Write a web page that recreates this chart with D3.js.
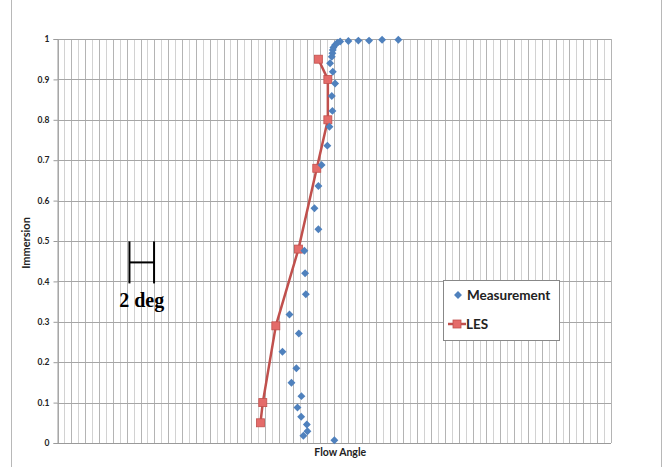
<!DOCTYPE html>
<html>
<head>
<meta charset="utf-8">
<script src="https://cdn.jsdelivr.net/npm/d3@7"></script>
<style>
  html, body { margin: 0; padding: 0; background: #fff; }
  svg { display: block; }
  .lbl { font-family: Lato, "Open Sans", sans-serif; font-weight: bold; fill: #222; }
</style>
</head>
<body>
<svg id="chart" width="665" height="467"></svg>
<script>
// Immersion (0 = bottom, 1 = free surface) against flow angle in degrees.
const measAngle = [27.71, 26.39, 25.33, 24.46, 23.65, 22.98, 22.76, 22.57, 22.43, 22.38,
                   22.35, 22.30, 22.16, 22.38, 22.57, 22.30, 22.35, 22.11, 21.94, 21.47,
                   21.21, 20.89, 21.21, 20.07, 20.13, 20.19, 18.86, 19.62, 18.29, 19.42,
                   19.02, 19.83, 19.51, 19.81, 20.27, 20.32, 19.99, 22.51];
const measImm   = [0.998, 0.998, 0.996, 0.996, 0.995, 0.994, 0.991, 0.985, 0.979, 0.973,
                   0.965, 0.956, 0.940, 0.919, 0.890, 0.859, 0.822, 0.783, 0.736, 0.688,
                   0.636, 0.581, 0.529, 0.476, 0.420, 0.368, 0.318, 0.271, 0.226, 0.185,
                   0.149, 0.116, 0.088, 0.065, 0.046, 0.029, 0.018, 0.007];

const lesAngle = [16.50, 16.69, 17.75, 19.59, 21.08, 21.98, 21.98, 21.21];
const lesImm   = [0.05, 0.10, 0.29, 0.48, 0.68, 0.80, 0.90, 0.95];

const yTicks = [0, 0.1, 0.2, 0.3, 0.4, 0.5, 0.6, 0.7, 0.8, 0.9, 1];
const angleRange = [0, 45];      // degrees across the plot area
const gridCount = 80;            // vertical gridline intervals
const scaleBarDeg = 2;           // length of the reference bar
const scaleBarStart = 5.85;      // angle where the bar starts
const scaleBarImm = 0.447;       // immersion of the bar's centre

const svg = d3.select("#chart");
const W = 665, H = 467;
const plot = { left: 57.5, right: 611, top: 39, bottom: 443 };

const x = d3.scaleLinear().domain(angleRange).range([plot.left, plot.right]);
const y = d3.scaleLinear().domain([0, 1]).range([plot.bottom, plot.top]);

const blue = "#4F81BD", red = "#C0504D";

// outer chart frame
svg.append("rect").attr("x", 11.5).attr("y", -1).attr("width", 650).attr("height", H + 2)
  .attr("fill", "none").attr("stroke", "#b8b8b8").attr("stroke-width", 1);

// vertical gridlines
const gx = d3.range(gridCount + 1).map(i => angleRange[0] + i * (angleRange[1] - angleRange[0]) / gridCount);
svg.append("g").selectAll("line").data(gx).join("line")
  .attr("x1", d => Math.round(x(d)) + 0.5).attr("x2", d => Math.round(x(d)) + 0.5)
  .attr("y1", plot.top).attr("y2", plot.bottom)
  .attr("stroke", (d, i) => i % 2 === 0 ? "#b4b4b4" : "#d2d2d2")
  .attr("stroke-width", 1);

// horizontal gridlines
svg.append("g").selectAll("line").data(yTicks).join("line")
  .attr("x1", plot.left).attr("x2", plot.right)
  .attr("y1", d => Math.round(y(d)) + 0.5).attr("y2", d => Math.round(y(d)) + 0.5)
  .attr("stroke", "#a6a6a6").attr("stroke-width", 1);

// y axis
const yAxis = d3.axisLeft(y).tickValues(yTicks).tickSize(4).tickPadding(4)
  .tickFormat(d => (d === 0 || d === 1) ? String(d) : d.toFixed(1));
const ya = svg.append("g").attr("transform", `translate(${plot.left},0)`).call(yAxis);
ya.select(".domain").attr("stroke", "#9a9a9a");
ya.selectAll(".tick line").attr("stroke", "#9a9a9a");
ya.selectAll("text").attr("class", "lbl").style("font-size", "8.5px");

// x axis baseline
svg.append("line").attr("x1", plot.left).attr("x2", plot.right)
  .attr("y1", plot.bottom + 0.5).attr("y2", plot.bottom + 0.5)
  .attr("stroke", "#9a9a9a");

// axis titles
svg.append("text").attr("class", "lbl").style("font-size", "11px")
  .attr("text-anchor", "middle")
  .attr("transform", `translate(30,${(plot.top + plot.bottom) / 2 + 2}) rotate(-90)`)
  .text("Immersion");
svg.append("text").attr("class", "lbl").style("font-size", "10.5px")
  .attr("text-anchor", "middle")
  .attr("x", (plot.left + plot.right) / 2 + 6).attr("y", 456)
  .text("Flow Angle");

// LES line + markers
const les = lesAngle.map((a, i) => ({ a, v: lesImm[i] }));
svg.append("path").datum(les)
  .attr("d", d3.line().x(d => x(d.a)).y(d => y(d.v)))
  .attr("fill", "none").attr("stroke", red).attr("stroke-width", 2.5);
svg.append("g").selectAll("rect").data(les).join("rect")
  .attr("x", d => x(d.a) - 4).attr("y", d => y(d.v) - 4)
  .attr("width", 8).attr("height", 8)
  .attr("fill", "#E46C6A").attr("stroke", red).attr("stroke-width", 0.8);

// measurement markers
const diamond = d3.symbol().type(d3.symbolDiamond2).size(40);
const meas = measAngle.map((a, i) => ({ a, v: measImm[i] }));
svg.append("g").selectAll("path").data(meas).join("path")
  .attr("d", diamond)
  .attr("transform", d => `translate(${x(d.a)},${y(d.v)})`)
  .attr("fill", blue);

// 2-degree reference bar
const bx0 = x(scaleBarStart), bx1 = x(scaleBarStart + scaleBarDeg);
const by = y(scaleBarImm);
const bar = svg.append("g").attr("stroke", "#000").attr("stroke-width", 2);
bar.append("line").attr("x1", bx0).attr("x2", bx0).attr("y1", by - 21).attr("y2", by + 21);
bar.append("line").attr("x1", bx1).attr("x2", bx1).attr("y1", by - 21).attr("y2", by + 21);
bar.append("line").attr("x1", bx0).attr("x2", bx1).attr("y1", by).attr("y2", by);
svg.append("text")
  .attr("x", (bx0 + bx1) / 2).attr("y", by + 45)
  .attr("text-anchor", "middle")
  .style("font-family", "'Liberation Serif', 'Times New Roman', serif")
  .style("font-weight", "bold").style("font-size", "20px").attr("fill", "#000")
  .text(`${scaleBarDeg} deg`);

// legend
const lg = svg.append("g").attr("transform", "translate(443,280)");
lg.append("rect").attr("x", 0.5).attr("y", 0.5).attr("width", 116).attr("height", 60)
  .attr("fill", "#fff").attr("stroke", "#888");
lg.append("path").attr("d", diamond).attr("transform", "translate(15,15)").attr("fill", blue);
lg.append("text").attr("class", "lbl").style("font-size", "13.5px")
  .attr("x", 24).attr("y", 20).text("Measurement");
lg.append("line").attr("x1", 5).attr("x2", 23).attr("y1", 44).attr("y2", 44)
  .attr("stroke", red).attr("stroke-width", 2.5);
lg.append("rect").attr("x", 10).attr("y", 40).attr("width", 8).attr("height", 8)
  .attr("fill", "#E46C6A").attr("stroke", red).attr("stroke-width", 0.8);
lg.append("text").attr("class", "lbl").style("font-size", "13.5px")
  .attr("x", 23).attr("y", 49).text("LES");
</script>
</body>
</html>
